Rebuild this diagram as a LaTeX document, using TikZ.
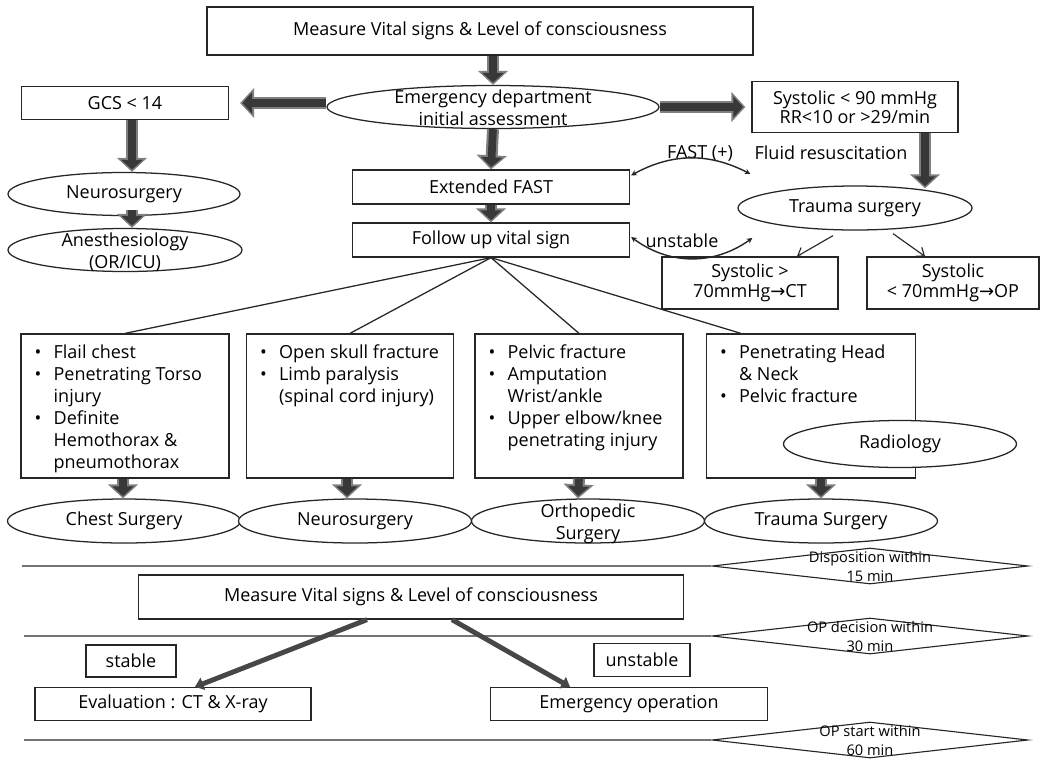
\documentclass[tikz,border=0pt]{standalone}
\usepackage{fontspec}
\setmainfont{Open Sans}
\newfontfamily\arrowfont{DejaVu Sans}
\usepackage{tikz}
\usetikzlibrary{
    positioning,
    arrows.meta,
    shapes.geometric,
    calc
}
\newcommand{\pxu}{0.025cm}
\newcommand{\stxt}[1]{\makebox[0pt]{\smash{\raisebox{-0.4em}{\begin{tabular}{@{}c@{}}#1\end{tabular}}}}}
\newcommand{\bul}{\makebox[0.475cm][l]{\textbullet}}
\newcommand{\nob}{\hspace*{0.475cm}}
\newcommand{\rarr}{{\arrowfont\char"2192}}
\tikzset{
    box/.style={
        rectangle, draw=black!85, line width=0.9pt, fill=white,
        align=center, inner sep=0pt
    },
    twoline/.style={
        font=\fontsize{12.8}{13.8}\selectfont
    },
    oval/.style={
        ellipse, draw=black!85, line width=0.9pt, fill=white,
        inner sep=0pt, minimum width=233*\pxu, minimum height=44*\pxu
    },
    listtext/.style={
        anchor=north west, align=left, inner sep=0pt
    },
    gate/.style={
        diamond, draw=black!85, line width=0.8pt, inner sep=0pt,
        minimum width=316*\pxu, minimum height=36*\pxu,
        font=\fontsize{10.4}{13.5}\selectfont
    },
    bigarrow/.style={
        draw=black!50, line width=8.5pt,
        -{Triangle[width=21pt,length=10pt]},
        postaction={draw=black!78, line width=5.5pt, shorten >=1.6pt,
            -{Triangle[width=15pt,length=7pt]}}
    },
    slantarrow/.style={
        draw=black!72, line width=3.5pt,
        -{Triangle[width=9pt,length=6pt]}
    },
    thinarrow/.style={
        -{Straight Barb[length=5pt,width=8pt]}, line width=0.8pt, draw=black!85
    },
    arcarrow/.style={
        {Stealth[length=4pt,width=4pt]}-{Stealth[length=4pt,width=4pt]},
        line width=1pt, draw=black!85
    },
    fanline/.style={
        line width=0.9pt, draw=black!85
    },
    sepline/.style={
        line width=0.8pt, draw=black!55
    }
}

\begin{document}
\begin{tikzpicture}[x=0.025cm, y=-0.025cm,
    every node/.append style={font=\fontsize{12.8}{15.6}\selectfont}]
    \useasboundingbox (0,0) rectangle (1040,759);

    % upper part: assessment
    \node[box, minimum width=546*\pxu, minimum height=48*\pxu] (measure) at (480,31)
        {Measure Vital signs \& Level of consciousness};
    \node[oval, minimum width=332*\pxu, minimum height=43*\pxu] (edinit) at (493,107)
        {\stxt{Emergency department\\initial assessment}};
    \node[box, minimum width=207*\pxu, minimum height=33*\pxu] (gcs) at (125,103) {GCS < 14};
    \node[box, twoline, minimum width=206*\pxu, minimum height=51*\pxu] (sys) at (855,107)
        {Systolic < 90 mmHg\\RR<10 or >29/min};
    \node[oval, minimum width=232*\pxu, minimum height=43*\pxu] (neuroa) at (124,194) {Neurosurgery};
    \node[oval, minimum width=234*\pxu, minimum height=43*\pxu] (anes) at (125,250)
        {\stxt{Anesthesiology\\(OR/ICU)}};
    \node[box, minimum width=277*\pxu, minimum height=34*\pxu] (efast) at (491,187) {Extended FAST};
    \node[box, minimum width=277*\pxu, minimum height=34*\pxu] (follow) at (491,240) {Follow up vital sign};
    \node[oval, minimum width=234*\pxu, minimum height=44*\pxu] (trauma) at (855,208) {Trauma surgery};
    \node[box, twoline, minimum width=176*\pxu, minimum height=52*\pxu] (ct) at (750,283)
        {Systolic >\\70mmHg\rarr CT};
    \node[box, twoline, minimum width=172*\pxu, minimum height=52*\pxu] (op) at (953,283)
        {Systolic\\< 70mmHg\rarr OP};
    \node (fastpos) at (700,153) {FAST (+)};
    \node (fluid) at (831,153) {Fluid resuscitation};
    \node (unstab) at (682,241) {unstable};

    \draw[bigarrow] (edinit.north |- measure.south) -- (edinit.north);
    \draw[bigarrow] (edinit.west |- gcs.east) -- ([xshift=11*\pxu]gcs.east);
    \draw[bigarrow] (edinit.east) -- ([xshift=-6*\pxu]sys.west |- edinit.east);
    \draw[bigarrow] ([xshift=7*\pxu]gcs.south) -- ([xshift=8*\pxu]neuroa.north);
    \draw[bigarrow] ([xshift=8*\pxu,yshift=6*\pxu]neuroa.south) -- ([xshift=7*\pxu]anes.north);
    \draw[bigarrow] (edinit.south) -- (efast.north);
    \draw[bigarrow] (efast.south) -- (follow.north);
    \draw[bigarrow] ($(sys.south)+(70,0)$) -- ($(trauma.north)+(70,3)$);

    \coordinate (fastend) at ($(trauma.west)+(13,-34)$);
    \coordinate (unstend) at ($(trauma.west)+(15,30)$);
    \draw[arcarrow] ($(efast.north east)+(1,6)$) to[bend left=28] (fastend);
    \draw[arcarrow] ($(follow.east)+(1,-3)$) to[bend right=36] (unstend);
    \draw[thinarrow] ($(trauma.south)+(-22,5)$) -- ($(ct.north)+(47,0)$);
    \draw[thinarrow] ($(trauma.south)+(38,3)$) -- ($(op.north)+(-28,0)$);

    % criteria boxes
    \node[box, minimum width=208*\pxu, minimum height=144*\pxu] (chest) at (125,406) {};
    \node[box, minimum width=207*\pxu, minimum height=144*\pxu] (skull) at (350,406) {};
    \node[box, minimum width=208*\pxu, minimum height=144*\pxu] (pelvic) at (579,406) {};
    \node[box, minimum width=209*\pxu, minimum height=144*\pxu] (head) at (811,406) {};
    \node[listtext] (chesttxt) at ($(chest.north west)+(14,11)$)
        {\bul Flail chest\\\bul Penetrating Torso\\\nob injury\\\bul Definite\\\nob Hemothorax \&\\\nob pneumothorax};
    \node[listtext] (skulltxt) at ($(skull.north west)+(14,11)$)
        {\bul Open skull fracture\\\bul Limb paralysis\\\nob (spinal cord injury)};
    \node[listtext] (pelvictxt) at ($(pelvic.north west)+(14,11)$)
        {\bul Pelvic fracture\\\bul Amputation\\\nob Wrist/ankle\\\bul Upper elbow/knee\\\nob penetrating injury};
    \node[listtext] (headtxt) at ($(head.north west)+(14,11)$)
        {\bul Penetrating Head\\\nob \& Neck\\\bul Pelvic fracture};
    \node[oval, minimum height=47*\pxu] (radio) at (900,444) {Radiology};

    \foreach \dst in {chest, skull, pelvic} {
        \draw[fanline] (follow.south) -- (\dst.north);
    }
    \draw[fanline] (follow.south) -- ($(head.north west)+(35,0)$);

    % departments
    \node[oval] (chestsurg) at (124,521) {Chest Surgery};
    \node[oval] (neurob) at (355,521) {Neurosurgery};
    \node[oval] (ortho) at (588,521) {\stxt{Orthopedic\\Surgery}};
    \node[oval] (traumab) at (821,521) {Trauma Surgery};
    \draw[bigarrow] ([xshift=-2*\pxu]chest.south) -- ([xshift=-1*\pxu]chestsurg.north);
    \draw[bigarrow] ([xshift=-3*\pxu]skull.south) -- ([xshift=-8*\pxu]neurob.north);
    \draw[bigarrow] (pelvic.south) -- ([xshift=-10*\pxu]ortho.north);
    \draw[bigarrow] (traumab.north |- head.south) -- (traumab.north);

    % time limits
    \node[gate] (disp) at (870,566) {\stxt{Disposition within\\15 min}};
    \node[gate] (opdec) at (870,636) {\stxt{OP decision within\\30 min}};
    \node[gate] (opstart) at (870,740) {\stxt{OP start within\\60 min}};
    \coordinate (sepa) at (22,566);
    \coordinate (sepb) at (24,636);
    \coordinate (sepc) at (24,740);
    \draw[sepline] (sepa) -- (disp.west);
    \draw[sepline] (sepb) -- (opdec.west);
    \draw[sepline] (sepc) -- (opstart.west);

    % lower part: decision
    \node[box, minimum width=545*\pxu, minimum height=44*\pxu] (measureb) at (411,597)
        {Measure Vital signs \& Level of consciousness};
    \node[box, minimum width=90*\pxu, minimum height=32*\pxu] (stable) at (131,661) {stable};
    \node[box, minimum width=96*\pxu, minimum height=33*\pxu] (unstable) at (642,660) {unstable};
    \node[box, minimum width=276*\pxu, minimum height=33*\pxu] (eval) at (173,704) {Evaluation : CT \& X-ray};
    \node[box, minimum width=277*\pxu, minimum height=33*\pxu] (emop) at (629,704) {Emergency operation};
    \draw[slantarrow] ($(measureb.south)+(-44,0)$) -- ($(eval.north)+(22,0)$);
    \draw[slantarrow] ($(measureb.south)+(41,0)$) -- ($(emop.north)+(-59,0)$);
\end{tikzpicture}
\end{document}
